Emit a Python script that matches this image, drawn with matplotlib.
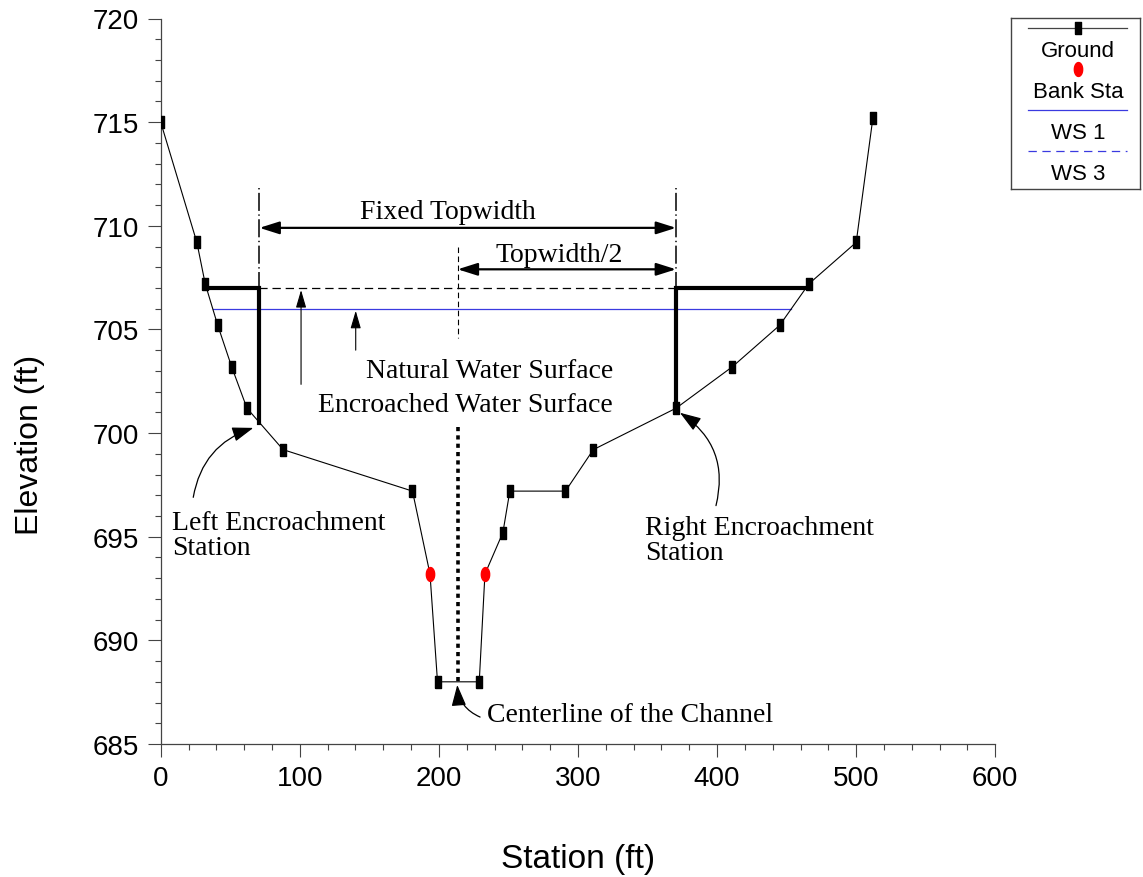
"""Encroachment cross-section: fixed topwidth method."""
import numpy as np
import matplotlib
matplotlib.use("Agg")
import matplotlib.pyplot as plt

plt.rcParams.update({"font.family": ["Liberation Sans", "DejaVu Sans"],
                     "lines.scale_dashes": False})
SERIF = ["Liberation Serif", "DejaVu Serif"]

# ---- data ----
ground_sta = [0, 26, 32, 41, 51, 62, 88, 181, 193.6, 199, 229, 233.1, 246, 251, 291, 311,
              370.5, 411, 445, 466, 500, 512]
ground_elev = [715, 709.2, 707.2, 705.2, 703.2, 701.2, 699.2, 697.2, 693.2, 688, 688, 693.2,
               695.2, 697.2, 697.2, 699.2, 701.2, 703.2, 705.2, 707.2, 709.2, 715.2]
bank_sta = [193.6, 233.1]
ws1_elev = 706.0          # natural water surface
ws3_elev = 707.0          # encroached water surface
encr_sta = [71.0, 370.5]  # left / right encroachment stations
centerline = 213.5
fixed_tw_elev = 709.9
half_tw_elev = 707.9

gs = np.array(ground_sta)
ge = np.array(ground_elev)


def ws_extent(elev):
    # first crossing from the left and from the right
    i = np.where(ge <= elev)[0]
    lo, hi = i[0], i[-1]
    left = np.interp(elev, [ge[lo], ge[lo - 1]], [gs[lo], gs[lo - 1]])
    right = np.interp(elev, [ge[hi], ge[hi + 1]], [gs[hi], gs[hi + 1]])
    return left, right


W, H = 1143, 878
fig = plt.figure(figsize=(W / 100, H / 100), dpi=100)
ax = fig.add_axes([160.7 / W, 1 - 745 / H, 834.6 / W, 725.5 / H])

rect = [(-0.6, -1), (0.6, -1), (0.6, 1), (-0.6, 1), (-0.6, -1)]
t = np.linspace(0, 2 * np.pi, 40)
oval = list(zip(0.6 * np.cos(t), np.sin(t)))

is_bank = np.isin(gs, bank_sta)
ax.plot(gs, ge, color="black", lw=0.8, zorder=3)
ax.plot(gs[~is_bank], ge[~is_bank], ls="none", marker=rect, ms=8, color="black", zorder=4)
ax.plot(gs[is_bank], ge[is_bank], ls="none", marker=oval, ms=10, color="red", zorder=4)

# water surfaces
l1, r1 = ws_extent(ws1_elev)
ax.plot([l1, r1], [ws1_elev] * 2, color="#3a3ae0", lw=0.9, zorder=2)
l3, r3 = ws_extent(ws3_elev)
ax.plot([l3, r3], [ws3_elev] * 2, color="black", lw=0.9, dashes=(6, 3.5), zorder=2)

# encroachment lines
gl = np.interp(encr_sta[0], gs, ge)
gr = np.interp(encr_sta[1], gs, ge)
ax.plot([l3, encr_sta[0], encr_sta[0]], [ws3_elev, ws3_elev, gl], color="black", lw=3,
        solid_joinstyle="miter", zorder=3)
ax.plot([r3, encr_sta[1], encr_sta[1]], [ws3_elev, ws3_elev, gr], color="black", lw=3,
        solid_joinstyle="miter", zorder=3)
for s in encr_sta:
    ax.plot([s, s], [711.8, ws3_elev], color="black", lw=1.1, dashes=(1, 2.5, 13, 2.5))

# topwidth / centerline markers
ax.plot([centerline] * 2, [709.0, 704.6], color="black", lw=0.8, dashes=(4, 2.5))
ax.plot([centerline] * 2, [700.3, 688.0], color="black", lw=2.6, dashes=(3, 3))

dbl = dict(arrowstyle="<|-|>,head_length=1.2,head_width=0.38", color="black", lw=1.6,
           mutation_scale=10, shrinkA=0, shrinkB=0)
ax.annotate("", xy=(encr_sta[1], fixed_tw_elev), xytext=(encr_sta[0], fixed_tw_elev),
            arrowprops=dbl)
ax.annotate("", xy=(encr_sta[1], half_tw_elev), xytext=(centerline, half_tw_elev),
            arrowprops=dbl)

up = dict(arrowstyle="-|>,head_length=1.2,head_width=0.35", color="black", lw=0.8,
          mutation_scale=9, shrinkA=0, shrinkB=0)
ax.annotate("", xy=(140.2, 705.9), xytext=(140.2, 704.0), arrowprops=up)
ax.annotate("", xy=(100.9, 706.9), xytext=(100.9, 702.35), arrowprops=up)

curve = dict(arrowstyle="-|>,head_length=1.3,head_width=0.45", color="black", lw=0.9,
             mutation_scale=10, shrinkA=0, shrinkB=0)
ax.annotate("", xy=(66.6, 700.25), xytext=(23.4, 696.9),
            arrowprops=dict(curve, connectionstyle="arc3,rad=-0.3"))
ax.annotate("", xy=(373.3, 700.98), xytext=(399.2, 696.5),
            arrowprops=dict(curve, connectionstyle="arc3,rad=0.35"))
ax.annotate("", xy=(213.2, 687.85), xytext=(229.6, 686.3),
            arrowprops=dict(curve, connectionstyle="arc3,rad=-0.3"))

tk = dict(family=SERIF, fontsize=20)
ax.text(206.6, 710.7, "Fixed Topwidth", ha="center", va="center", **tk)
ax.text(286.5, 708.6, "Topwidth/2", ha="center", va="center", **tk)
ax.text(325.2, 703.0, "Natural Water Surface", ha="right", va="center", **tk)
ax.text(325.2, 701.4, "Encroached Water Surface", ha="right", va="center", **tk)
ax.text(7.9, 695.1, "Left Encroachment\nStation", ha="left", va="center",
        linespacing=1.0, **tk)
ax.text(348.1, 694.85, "Right Encroachment\nStation", ha="left", va="center",
        linespacing=1.0, **tk)
ax.text(234.6, 686.4, "Centerline of the Channel", ha="left", va="center", **tk)

# axes styling
ax.set_xlim(0, 600)
ax.set_ylim(685, 720)
ax.set_xticks(np.arange(0, 601, 100))
ax.set_xticks(np.arange(0, 601, 20), minor=True)
ax.set_yticks(np.arange(685, 721, 5))
ax.set_yticks(np.arange(685, 721, 1), minor=True)
for sp in ("top", "right"):
    ax.spines[sp].set_visible(False)
for sp in ("left", "bottom"):
    ax.spines[sp].set_color("#444444")
    ax.spines[sp].set_linewidth(0.9)
ax.tick_params(which="major", direction="out", length=9.4, width=0.8, color="#444444",
               labelsize=20, pad=6)
ax.tick_params(which="minor", direction="out", length=4.3, width=0.8, color="#444444")
ax.patch.set_visible(False)

fig.text(578 / W, 1 - 860 / H, "Station (ft)", ha="center", va="center", fontsize=24)
fig.text(30 / W, 1 - 445 / H, "Elevation (ft)", ha="center", va="center", fontsize=23,
         rotation=90)

# legend: handle above label, inside a box
lax = fig.add_axes([1011 / W, 1 - 190 / H, 129 / W, 171 / H])
lax.set_xlim(0, 1)
lax.set_ylim(171, 0)
lax.set_xticks([])
lax.set_yticks([])
for sp in lax.spines.values():
    sp.set_color("#444444")
    sp.set_linewidth(1.0)
names = ["Ground", "Bank Sta", "WS 1", "WS 3"]
for i, name in enumerate(names):
    yh = 10 + 41 * i
    yl = 32.5 + 41 * i
    if name == "Ground":
        lax.plot([0.13, 0.9], [yh, yh], color="#444444", lw=0.9)
        lax.plot([0.52], [yh], ls="none", marker=rect, ms=8, color="black")
    elif name == "Bank Sta":
        lax.plot([0.52], [yh], ls="none", marker=oval, ms=10, color="red")
    elif name == "WS 1":
        lax.plot([0.13, 0.9], [yh, yh], color="#3a3ae0", lw=0.9)
    else:
        lax.plot([0.13, 0.9], [yh, yh], color="#3a3ae0", lw=0.9, dashes=(6, 4))
    lax.text(0.52, yl, name, ha="center", va="center", fontsize=16)

fig.savefig("out.png", dpi=100)
